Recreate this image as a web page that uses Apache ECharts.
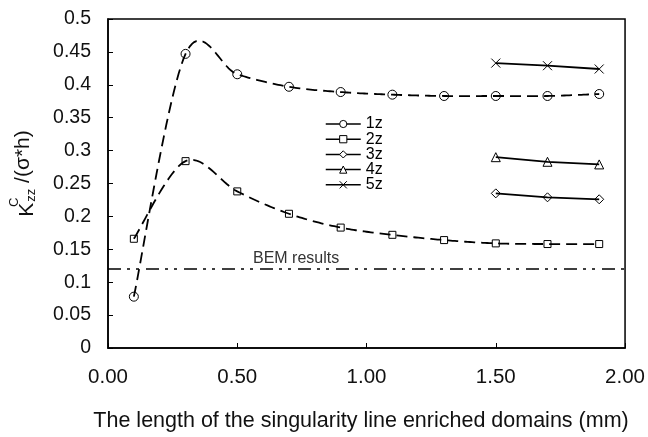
<!DOCTYPE html>
<html>
<head>
<meta charset="utf-8">
<script src="https://cdn.jsdelivr.net/npm/echarts@6/dist/echarts.min.js"></script>
<style>
html,body{margin:0;padding:0;background:#fff;}
#chart{width:648px;height:437px;}
</style>
</head>
<body>
<div id="chart"></div>
<script>
// ---- data ----
const xLong = [0.1, 0.3, 0.5, 0.7, 0.9, 1.1, 1.3, 1.5, 1.7, 1.9];
const values1z = [0.078, 0.447, 0.416, 0.397, 0.389, 0.385, 0.383, 0.383, 0.383, 0.386];
const values2z = [0.166, 0.284, 0.238, 0.204, 0.183, 0.172, 0.164, 0.159, 0.158, 0.158];
const xShort = [1.5, 1.7, 1.9];
const values3z = [0.235, 0.229, 0.226];
const values4z = [0.290, 0.283, 0.279];
const values5z = [0.433, 0.429, 0.424];
const bemValue = 0.1215;
const seriesNames = ['1z', '2z', '3z', '4z', '5z'];
const bemLabel = 'BEM results';
const xTitle = 'The length of the singularity line enriched domains (mm)';

const FONT = '"Liberation Sans", Arial, sans-serif';
const pair = (xs, ys) => xs.map((x, i) => [x, ys[i]]);
const crossPath = 'path://M0,0L10,10M10,0L0,10';
const hollow = { color: 'rgba(255,255,255,0)', borderColor: '#000', borderWidth: 1 };

function mkSeries(name, data, symbol, size, dashed) {
  return {
    name, type: 'line', data, symbol, symbolSize: size,
    showAllSymbol: true,
    lineStyle: dashed ? { color: '#000', width: 1.8, opacity: 0 } : { color: '#000', width: 1.8, type: 'solid' },
    itemStyle: hollow,
    emphasis: { disabled: true },
    z: 4
  };
}

// Excel-like smoothed (Catmull-Rom) curve drawn through the axis scales
function smoothCurve(xs, ys) {
  return {
    type: 'custom',
    silent: true,
    z: 3,
    data: [[xs[0], ys[0]]],
    renderItem: function (params, api) {
      const p = xs.map((x, i) => api.coord([x, ys[i]]));
      const n = p.length;
      const pts = [];
      for (let i = 0; i < n - 1; i++) {
        const p0 = p[Math.max(i - 1, 0)], p1 = p[i], p2 = p[i + 1], p3 = p[Math.min(i + 2, n - 1)];
        const c1 = [p1[0] + (p2[0] - p0[0]) / 6, p1[1] + (p2[1] - p0[1]) / 6];
        const c2 = [p2[0] - (p3[0] - p1[0]) / 6, p2[1] - (p3[1] - p1[1]) / 6];
        const steps = 24;
        for (let s = (i === 0 ? 0 : 1); s <= steps; s++) {
          const t = s / steps, u = 1 - t;
          pts.push([
            u * u * u * p1[0] + 3 * u * u * t * c1[0] + 3 * u * t * t * c2[0] + t * t * t * p2[0],
            u * u * u * p1[1] + 3 * u * u * t * c1[1] + 3 * u * t * t * c2[1] + t * t * t * p2[1]
          ]);
        }
      }
      return {
        type: 'polyline',
        shape: { points: pts },
        style: { stroke: '#000', fill: null, lineWidth: 1.8, lineDash: [11, 6] }
      };
    }
  };
}

const series = [
  mkSeries(seriesNames[0], pair(xLong, values1z), 'circle', 9, true),
  mkSeries(seriesNames[1], pair(xLong, values2z), 'rect', 7, true),
  mkSeries(seriesNames[2], pair(xShort, values3z), 'diamond', 9, false),
  mkSeries(seriesNames[3], pair(xShort, values4z), 'triangle', 9, false),
  mkSeries(seriesNames[4], pair(xShort, values5z), crossPath, 9, false),
  smoothCurve(xLong, values1z),
  smoothCurve(xLong, values2z)
];
series[0].markLine = {
  silent: true,
  symbol: 'none',
  lineStyle: { color: '#000', width: 1.5, type: [13, 6, 3, 6, 3, 7], opacity: 1 },
  label: {
    show: true, position: 'insideStartTop', distance: [145, 2],
    formatter: bemLabel, color: '#333', fontSize: 16, fontFamily: FONT
  },
  data: [{ yAxis: bemValue }]
};

const chart = echarts.init(document.getElementById('chart'), null, { renderer: 'canvas' });
chart.setOption({
  animation: false,
  backgroundColor: '#fff',
  grid: { left: 102, right: 20, top: 19, bottom: 86, show: true, borderColor: '#000', borderWidth: 1.5, backgroundColor: 'transparent' },
  legend: {
    orient: 'vertical', left: 320, top: 111,
    itemWidth: 35, itemHeight: 9, itemGap: -0.8,
    data: seriesNames,
    textStyle: { fontSize: 16, fontFamily: FONT, color: '#000' },
    lineStyle: { type: 'solid', width: 1.5, color: '#000', opacity: 1 },
    itemStyle: { color: '#fff', borderColor: '#000', borderWidth: 1 },
    selectedMode: false
  },
  xAxis: {
    type: 'value', min: 0, max: 2, interval: 0.5,
    name: xTitle, nameLocation: 'middle', nameGap: 62,
    nameTextStyle: { fontSize: 21.5, fontFamily: FONT, color: '#111', padding: [0, 11, 0, 0] },
    axisLine: { lineStyle: { color: '#000', width: 1.5 } },
    axisTick: { inside: true, length: 5, lineStyle: { color: '#000' } },
    axisLabel: { fontSize: 20.5, fontFamily: FONT, color: '#111', margin: 19, formatter: v => v.toFixed(2) },
    splitLine: { show: false }
  },
  yAxis: {
    type: 'value', min: 0, max: 0.5, interval: 0.05,
    name: '{k|K}{sup|C}{sub|zz} /(σ*h)', nameLocation: 'middle', nameGap: 70, nameRotate: 90,
    nameTextStyle: {
      fontSize: 21, fontFamily: FONT, color: '#111',
      rich: {
        k: { fontSize: 21, fontFamily: FONT, color: '#111', lineHeight: 30, verticalAlign: 'bottom', padding: [0, 0, 0, 20] },
        sup: { fontSize: 13, fontFamily: FONT, color: '#111', width: 1, verticalAlign: 'top', lineHeight: 30 },
        sub: { fontSize: 13, fontFamily: FONT, color: '#111', verticalAlign: 'bottom', lineHeight: 26 }
      }
    },
    axisLine: { lineStyle: { color: '#000', width: 1.5 } },
    axisTick: { inside: true, length: 5, lineStyle: { color: '#000' } },
    axisLabel: { fontSize: 19.5, fontFamily: FONT, color: '#111', margin: 17, formatter: v => String(+v.toFixed(2)) },
    splitLine: { show: false }
  },
  series
});
</script>
</body>
</html>
